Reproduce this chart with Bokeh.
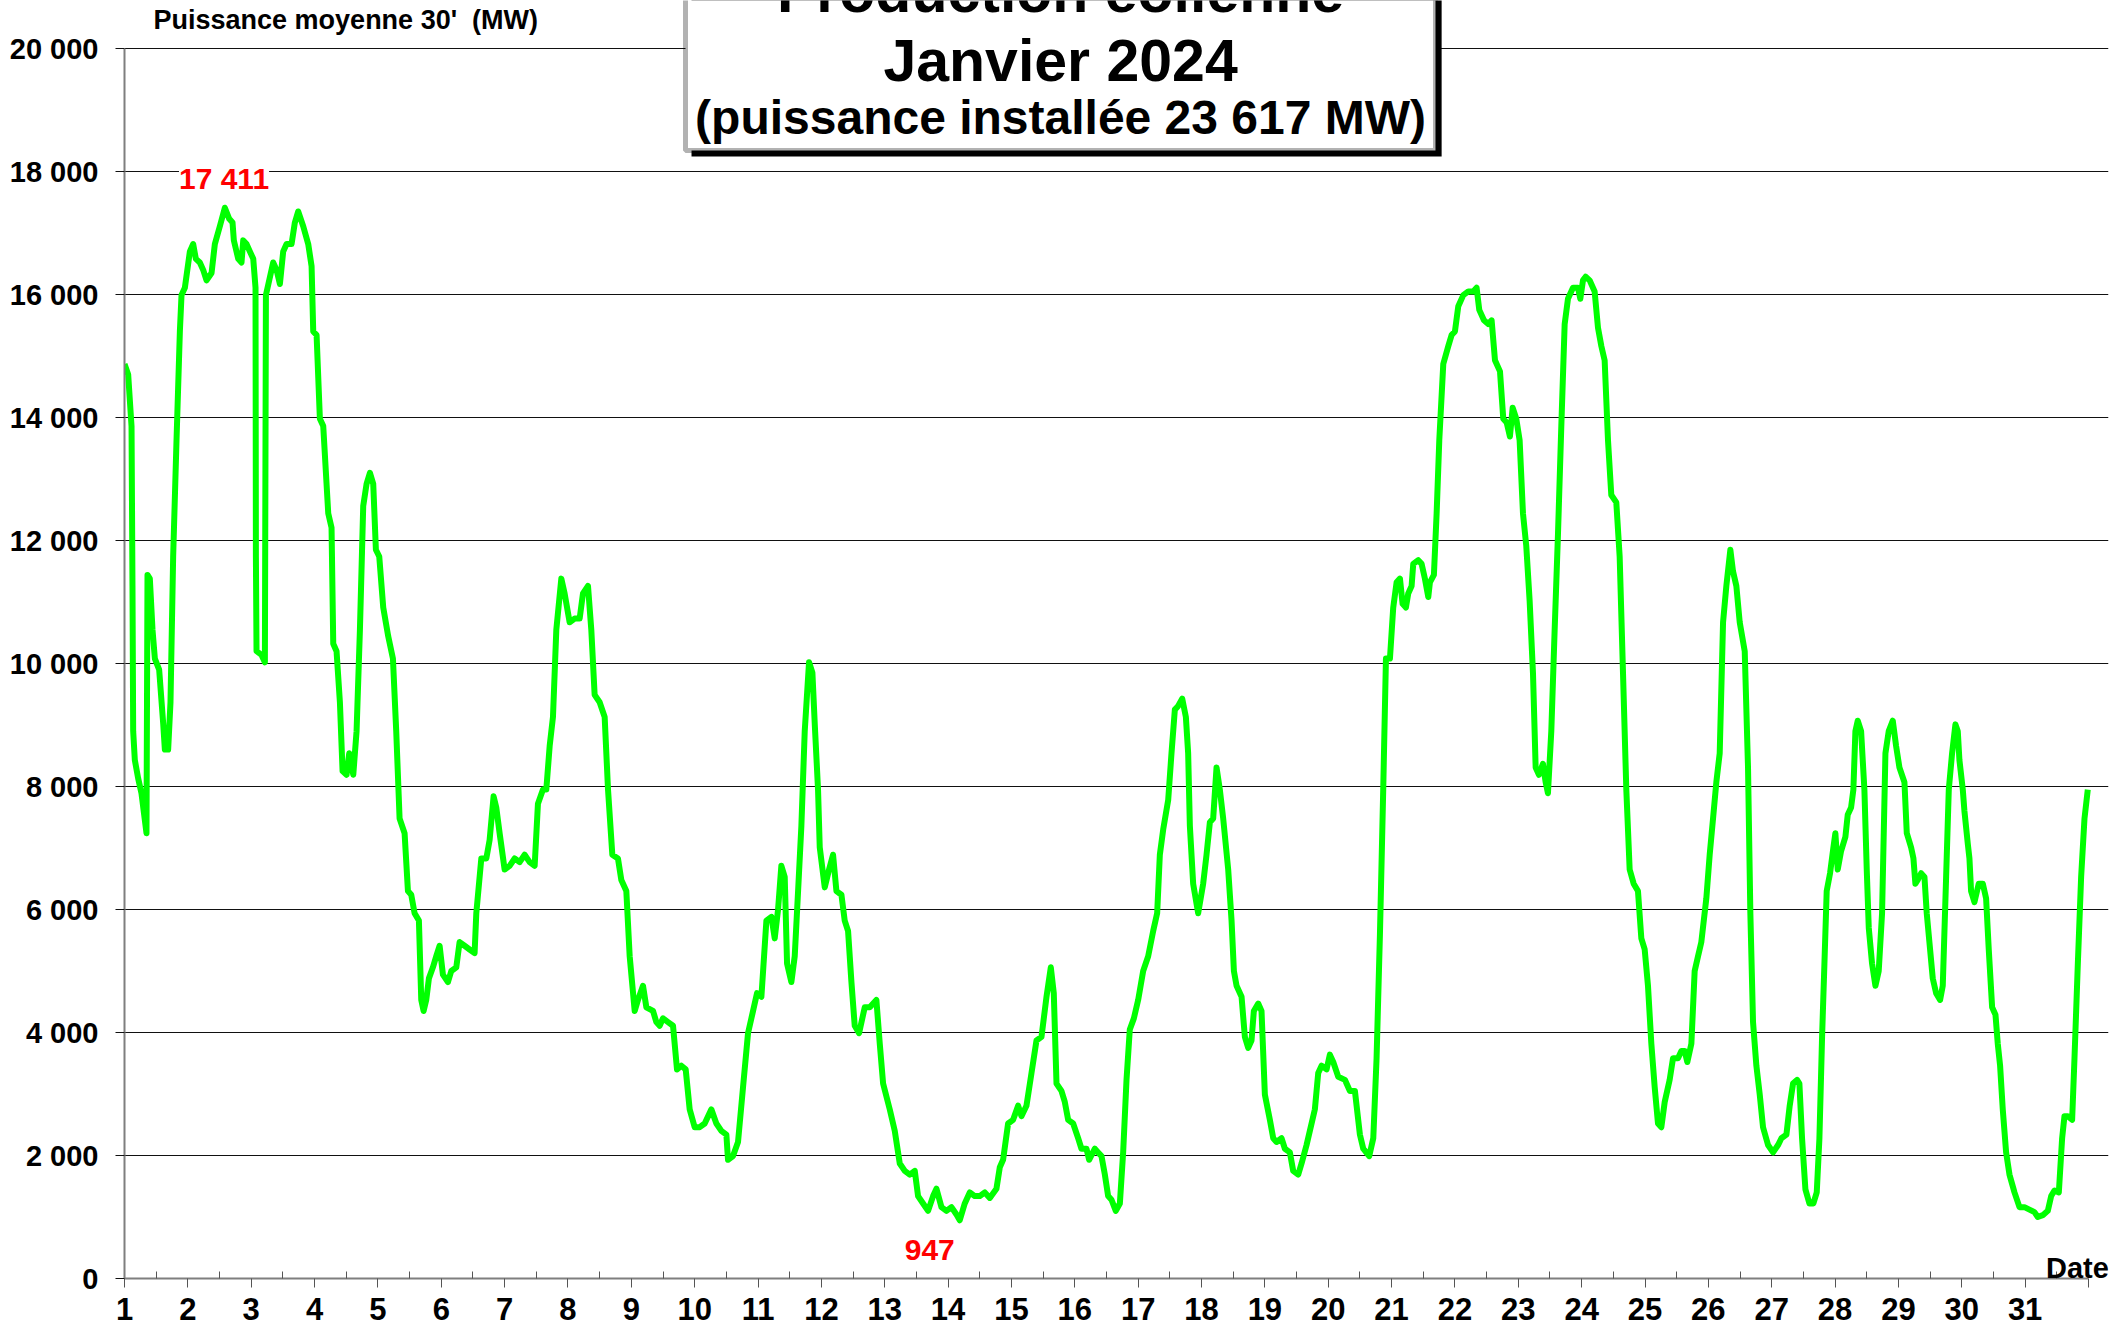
from bokeh.plotting import figure
from bokeh.models import Range1d, FixedTicker, Label, BoxAnnotation
from bokeh.embed import file_html
from bokeh.resources import INLINE

# ---------------- data ----------------
days = [
    1.000, 1.058, 1.111, 1.126, 1.137, 1.163, 1.216, 1.268, 1.347, 1.363, 1.400, 1.442, 1.479, 1.547,
    1.611, 1.637, 1.689, 1.726, 1.768, 1.821, 1.874, 1.900, 1.953, 2.032, 2.084, 2.126, 2.189, 2.242,
    2.295, 2.374, 2.426, 2.505, 2.584, 2.653, 2.705, 2.726, 2.795, 2.847, 2.874, 2.926, 2.979, 3.032,
    3.068, 3.074, 3.084, 3.163, 3.216, 3.232, 3.284, 3.347, 3.400, 3.453, 3.505, 3.558, 3.637, 3.689,
    3.742, 3.821, 3.900, 3.953, 3.979, 4.032, 4.084, 4.137, 4.216, 4.268, 4.295, 4.347, 4.400, 4.442,
    4.505, 4.547, 4.611, 4.663, 4.716, 4.768, 4.821, 4.874, 4.926, 4.968, 5.021, 5.084, 5.163,
    5.237, 5.289, 5.342, 5.421, 5.474, 5.526, 5.579, 5.647, 5.684, 5.721, 5.763, 5.805, 5.868, 5.921,
    5.974, 6.026, 6.105, 6.158, 6.237, 6.289, 6.368, 6.447, 6.526, 6.553, 6.632, 6.711, 6.763, 6.826,
    6.868, 6.921, 7.000, 7.079, 7.158, 7.237, 7.316, 7.395, 7.474, 7.526, 7.605, 7.658, 7.711, 7.763,
    7.816, 7.895, 7.947, 8.026, 8.105, 8.184, 8.237, 8.316, 8.368, 8.421, 8.500, 8.579, 8.632, 8.700,
    8.789, 8.842, 8.921, 8.974, 9.053, 9.105, 9.184, 9.237, 9.342, 9.395, 9.447, 9.500, 9.579, 9.658,
    9.721, 9.789, 9.858, 9.921, 10.000, 10.079, 10.158, 10.263, 10.342, 10.421, 10.500, 10.526, 10.605,
    10.684, 10.763, 10.842, 10.921, 10.984, 11.053, 11.132, 11.211, 11.263, 11.316, 11.368, 11.421,
    11.458, 11.526, 11.579, 11.632, 11.684, 11.737, 11.805, 11.858, 11.895, 11.947, 11.974, 12.053,
    12.121, 12.184, 12.237, 12.316, 12.368, 12.421, 12.474, 12.526, 12.595, 12.684, 12.763, 12.868,
    12.921, 12.974, 13.079, 13.158, 13.237, 13.316, 13.395, 13.474, 13.526, 13.605, 13.684, 13.763,
    13.816, 13.895, 13.974, 14.053, 14.132, 14.184, 14.263, 14.342, 14.421, 14.500, 14.579, 14.658,
    14.763, 14.816, 14.868, 14.947, 15.026, 15.105, 15.158, 15.237, 15.316, 15.395, 15.474, 15.553,
    15.621, 15.668, 15.711, 15.789, 15.842, 15.895, 15.974, 16.053, 16.105, 16.184, 16.226, 16.316,
    16.368, 16.421, 16.474, 16.526, 16.579, 16.647, 16.711, 16.763, 16.816, 16.868, 16.932, 17.000,
    17.079, 17.158, 17.237, 17.300, 17.342, 17.395, 17.474, 17.526, 17.579, 17.632, 17.695, 17.753,
    17.789, 17.816, 17.868, 17.947, 18.026, 18.079, 18.132, 18.184, 18.237, 18.289, 18.342, 18.421,
    18.474, 18.511, 18.553, 18.632, 18.684, 18.737, 18.789, 18.826, 18.895, 18.947, 19.000, 19.079,
    19.132, 19.184, 19.263, 19.316, 19.395, 19.447, 19.526, 19.579, 19.658, 19.737, 19.789, 19.842,
    19.895, 19.974, 20.026, 20.079, 20.158, 20.263, 20.342, 20.421, 20.500, 20.553, 20.647, 20.711,
    20.763, 20.816, 20.868, 20.911, 20.974, 21.026, 21.079, 21.132, 21.174, 21.226, 21.263, 21.316,
    21.342, 21.421, 21.474, 21.526, 21.579, 21.605, 21.668, 21.711, 21.753, 21.816, 21.895, 21.947,
    22.000, 22.053, 22.132, 22.211, 22.289, 22.342, 22.384, 22.458, 22.526, 22.579, 22.632, 22.711,
    22.763, 22.816, 22.868, 22.911, 22.968, 23.021, 23.074, 23.126, 23.179, 23.232, 23.274, 23.326,
    23.389, 23.432, 23.468, 23.521, 23.574, 23.626, 23.679, 23.732, 23.784, 23.863, 23.942, 23.979,
    24.021, 24.063, 24.126, 24.205, 24.258, 24.311, 24.363, 24.416, 24.468, 24.547, 24.600, 24.653,
    24.705, 24.758, 24.821, 24.889, 24.942, 24.995, 25.047, 25.100, 25.153, 25.205, 25.258, 25.311,
    25.389, 25.442, 25.521, 25.574, 25.626, 25.668, 25.732, 25.784, 25.837, 25.889, 25.968, 26.021,
    26.074, 26.126, 26.179, 26.232, 26.284, 26.347, 26.389, 26.442, 26.495, 26.574, 26.626, 26.663,
    26.705, 26.758, 26.811, 26.863, 26.942, 27.021, 27.100, 27.153, 27.232, 27.284, 27.337, 27.400,
    27.437, 27.479, 27.532, 27.595, 27.658, 27.711, 27.753, 27.795, 27.832, 27.868, 27.921, 27.974,
    28.005, 28.042, 28.095, 28.163, 28.200, 28.253, 28.289, 28.321, 28.358, 28.411, 28.463, 28.500,
    28.532, 28.584, 28.637, 28.689, 28.742, 28.795, 28.847, 28.911, 28.963, 29.016, 29.095, 29.132,
    29.200, 29.237, 29.268, 29.305, 29.358, 29.411, 29.447, 29.489, 29.542, 29.595, 29.658, 29.700,
    29.753, 29.795, 29.847, 29.900, 29.937, 29.963, 30.016, 30.042, 30.095, 30.121, 30.147, 30.200,
    30.268, 30.332, 30.384, 30.426, 30.479, 30.532, 30.568, 30.605, 30.647, 30.700, 30.753, 30.832,
    30.911, 30.989, 31.068, 31.147, 31.200, 31.279, 31.358, 31.411, 31.463, 31.532, 31.584, 31.621,
    31.674, 31.742, 31.779, 31.832, 31.884, 31.937, 31.989,
]
mw = [
    14870, 14700, 13860, 11260, 8900, 8430, 8130, 7890, 7240, 11440, 11380, 10550, 10080, 9900,
    9020, 8600, 8600, 9370, 11740, 13630, 15400, 15990, 16110, 16700, 16820, 16580, 16520, 16400,
    16230, 16350, 16820, 17110, 17411, 17230, 17170, 16880, 16580, 16520, 16880, 16820, 16700, 16580,
    16110, 11740, 10200, 10140, 10020, 15990, 16230, 16520, 16400, 16170, 16700, 16820, 16820, 17170,
    17350, 17110, 16820, 16460, 15400, 15340, 13980, 13860, 12440, 12210, 10320, 10200, 9370, 8250,
    8190, 8540, 8190, 8900, 10550, 12560, 12920, 13100, 12920, 11850, 11740, 10910, 10440,
    10080, 8900, 7480, 7240, 6300, 6240, 5940, 5820, 4530, 4350, 4530, 4880, 5060, 5240,
    5410, 4940, 4820, 5000, 5060, 5470, 5410, 5350, 5290, 5940, 6830, 6830, 7130, 7840,
    7660, 7240, 6650, 6710, 6830, 6770, 6890, 6770, 6710, 7720, 7950, 7950, 8660, 9130,
    10550, 11380, 11140, 10670, 10730, 10730, 11140, 11260, 10550, 9490, 9370, 9130, 7950, 6890,
    6830, 6480, 6300, 5240, 4350, 4530, 4760, 4410, 4350, 4170, 4110, 4230, 4170, 4110,
    3400, 3460, 3400, 2750, 2460, 2460, 2520, 2750, 2520, 2400, 2340, 1930, 1990,
    2220, 3110, 3990, 4350, 4640, 4580, 5820, 5880, 5530, 6000, 6710, 6530,
    5120, 4820, 5240, 6300, 7360, 8900, 10020, 9850, 9020, 7950, 7010, 6360,
    6650, 6890, 6300, 6240, 5820, 5650, 4820, 4110, 3990, 4410, 4410, 4530,
    3820, 3170, 2750, 2400, 1870, 1750, 1690, 1750, 1340, 1220, 1100, 1340,
    1460, 1160, 1100, 1160, 1040, 947, 1220, 1400, 1340, 1340, 1400, 1310,
    1460, 1810, 1930, 2520, 2580, 2810, 2640, 2810, 3340, 3870, 3930, 4580,
    5060, 4640, 3170, 3050, 2870, 2580, 2520, 2280, 2110, 2110, 1930, 2110,
    2050, 1990, 1690, 1340, 1280, 1100, 1220, 2050, 3230, 4050, 4230, 4530,
    5000, 5240, 5650, 5940, 6890, 7300, 7780, 8540, 9250, 9310, 9430, 9130,
    8540, 7360, 6420, 5940, 6420, 6890, 7420, 7480, 8310, 7950, 7480, 6650,
    5820, 5000, 4760, 4580, 3930, 3750, 3870, 4350, 4470, 4350, 2990, 2580,
    2280, 2220, 2280, 2110, 2050, 1750, 1690, 1870, 2170, 2520, 2750, 3340,
    3460, 3400, 3640, 3520, 3280, 3230, 3050, 3050, 2340, 2110, 1990, 2280,
    3580, 5590, 7950, 10080, 10080, 10910, 11320, 11380, 10970, 10910, 11140, 11260,
    11620, 11680, 11620, 11380, 11080, 11320, 11440, 12440, 13630, 14870, 15160, 15340,
    15400, 15810, 15990, 16050, 16050, 16110, 15750, 15580, 15520, 15580, 14930, 14750,
    13980, 13920, 13690, 14160, 13980, 13630, 12440, 11910, 11020, 9840, 8310, 8190,
    8370, 8070, 7890, 8900, 10550, 12090, 13860, 15520, 15930, 16110, 16110, 15930,
    16230, 16290, 16230, 16050, 15460, 15160, 14930, 13630, 12740, 12620, 11740, 9840,
    7950, 6650, 6420, 6300, 5530, 5350, 4760, 3820, 3110, 2520, 2460, 2870,
    3230, 3580, 3580, 3700, 3700, 3520, 3820, 5000, 5240, 5470, 6180, 6890,
    7480, 8070, 8540, 10670, 11260, 11850, 11500, 11260, 10670, 10200, 8310, 5940,
    4170, 3460, 2990, 2460, 2170, 2050, 2170, 2280, 2340, 2810, 3170, 3230,
    3170, 2280, 1450, 1220, 1220, 1400, 2280, 3930, 5120, 6300, 6590, 7010,
    7240, 6650, 6950, 7180, 7540, 7660, 7950, 8900, 9070, 8900, 7950, 6650,
    5700, 5120, 4760, 5000, 5940, 8540, 8900, 9070, 8660, 8310, 8070, 7240,
    7010, 6830, 6420, 6480, 6590, 6530, 5940, 5470, 4880, 4640, 4530, 4760,
    6530, 7950, 8540, 9010, 8900, 8430, 7950, 7600, 7070, 6830, 6300, 6120,
    6420, 6420, 6180, 5350, 4410, 4290, 3820, 3460, 2750, 2050, 1690, 1400,
    1160, 1160, 1120, 1080, 1000, 1030, 1100, 1340, 1430, 1400, 2280, 2640,
    2640, 2580, 3580, 5120, 6530, 7480, 7950,
]

y_ticks = [0, 2000, 4000, 6000, 8000, 10000, 12000, 14000, 16000, 18000, 20000]
y_tick_labels = ["0", "2 000", "4 000", "6 000", "8 000", "10 000", "12 000",
                 "14 000", "16 000", "18 000", "20 000"]
day_ticks = list(range(1, 33))
day_labels = [str(d) for d in range(1, 32)] + [""]

max_day, max_mw = 2.584, 17411
min_day, min_mw = 14.184, 947
max_label = "17 411"
min_label = "947"

title_lines = ["Production éolienne", "Janvier 2024", "(puissance installée 23 617 MW)"]
y_title = "Puissance moyenne 30' \u00a0(MW)"
x_title = "Date"

FONT = "Liberation Sans"

# ---------------- figure ----------------
# frame: day 1 at x=124px, 63.355 px per day; 0 MW at y=1278px, 20 000 MW at y=48px
W, H = 2110, 1327
p = figure(width=W, height=H, output_backend="svg", toolbar_location=None,
           x_range=Range1d(1, 32.316), y_range=Range1d(0, 20780.5),
           min_border_left=124, min_border_right=2, min_border_top=0, min_border_bottom=49)
p.outline_line_color = None
p.background_fill_color = "white"
p.border_fill_color = "white"

p.xgrid.grid_line_color = None
p.ygrid.ticker = FixedTicker(ticks=y_ticks)
p.ygrid.bounds = (1, 32)
p.ygrid.grid_line_color = "#111111"
p.ygrid.grid_line_width = 1

# y axis
p.yaxis.ticker = FixedTicker(ticks=y_ticks)
p.yaxis.bounds = (0, 20000)
p.yaxis.major_label_overrides = {t: l for t, l in zip(y_ticks, y_tick_labels)}
p.yaxis.major_label_text_font = FONT
p.yaxis.major_label_text_font_style = "bold"
p.yaxis.major_label_text_font_size = "29px"
p.yaxis.major_label_text_color = "black"
p.yaxis.major_label_standoff = 17
p.yaxis.major_tick_out = 9
p.yaxis.major_tick_in = 0
p.yaxis.major_tick_line_color = "#111111"
p.yaxis.minor_tick_line_color = None
p.yaxis.axis_line_color = "#7f7f7f"
p.yaxis.axis_line_width = 2

# x axis
p.xaxis.ticker = FixedTicker(ticks=day_ticks, minor_ticks=[d + 0.5 for d in range(1, 32)])
p.xaxis.bounds = (1, 32)
p.xaxis.major_label_overrides = {t: l for t, l in zip(day_ticks, day_labels)}
p.xaxis.major_label_text_font = FONT
p.xaxis.major_label_text_font_style = "bold"
p.xaxis.major_label_text_font_size = "31px"
p.xaxis.major_label_text_color = "black"
p.xaxis.major_label_standoff = 10
p.xaxis.major_tick_out = 9
p.xaxis.major_tick_in = 0
p.xaxis.minor_tick_in = 7
p.xaxis.minor_tick_out = 0
p.xaxis.major_tick_line_color = "#555555"
p.xaxis.minor_tick_line_color = "#555555"
p.xaxis.axis_line_color = "#7f7f7f"
p.xaxis.axis_line_width = 2

# data line
p.line(days, mw, line_color="#00ff00", line_width=6, line_join="round")

# title box with shadow
p.add_layout(BoxAnnotation(left=9.95, right=21.79, bottom=18244, top=25000,
                           fill_color="black", fill_alpha=1, line_color=None))
p.add_layout(BoxAnnotation(left=9.855, right=21.693, bottom=18341, top=25000,
                           fill_color="white", fill_alpha=1, line_color="black", line_width=5))
for txt, yv, fs in zip(title_lines, [20920, 19798, 18871], ["59px", "59px", "48px"]):
    p.add_layout(Label(x=15.775, y=yv, text=txt, text_align="center", text_baseline="middle",
                       text_font=FONT, text_font_style="bold", text_font_size=fs, text_color="black"))

# axis titles
p.add_layout(Label(x=1.458, y=20462, text=y_title, text_align="left", text_baseline="middle",
                   text_font=FONT, text_font_style="bold", text_font_size="27px", text_color="black"))
p.add_layout(Label(x=31.33, y=174, text=x_title, text_align="left", text_baseline="middle",
                   text_font=FONT, text_font_style="bold", text_font_size="29px", text_color="black"))

# extreme values
p.add_layout(Label(x=max_day - 0.013, y=17888, text=max_label, text_align="center",
                   text_baseline="middle", text_font=FONT, text_font_style="bold",
                   text_font_size="30px", text_color="#ff0000",
                   background_fill_color="white", background_fill_alpha=1))
p.add_layout(Label(x=13.71, y=456, text=min_label, text_align="center",
                   text_baseline="middle", text_font=FONT, text_font_style="bold",
                   text_font_size="30px", text_color="#ff0000"))

open("out.html", "w").write(file_html(p, INLINE))
